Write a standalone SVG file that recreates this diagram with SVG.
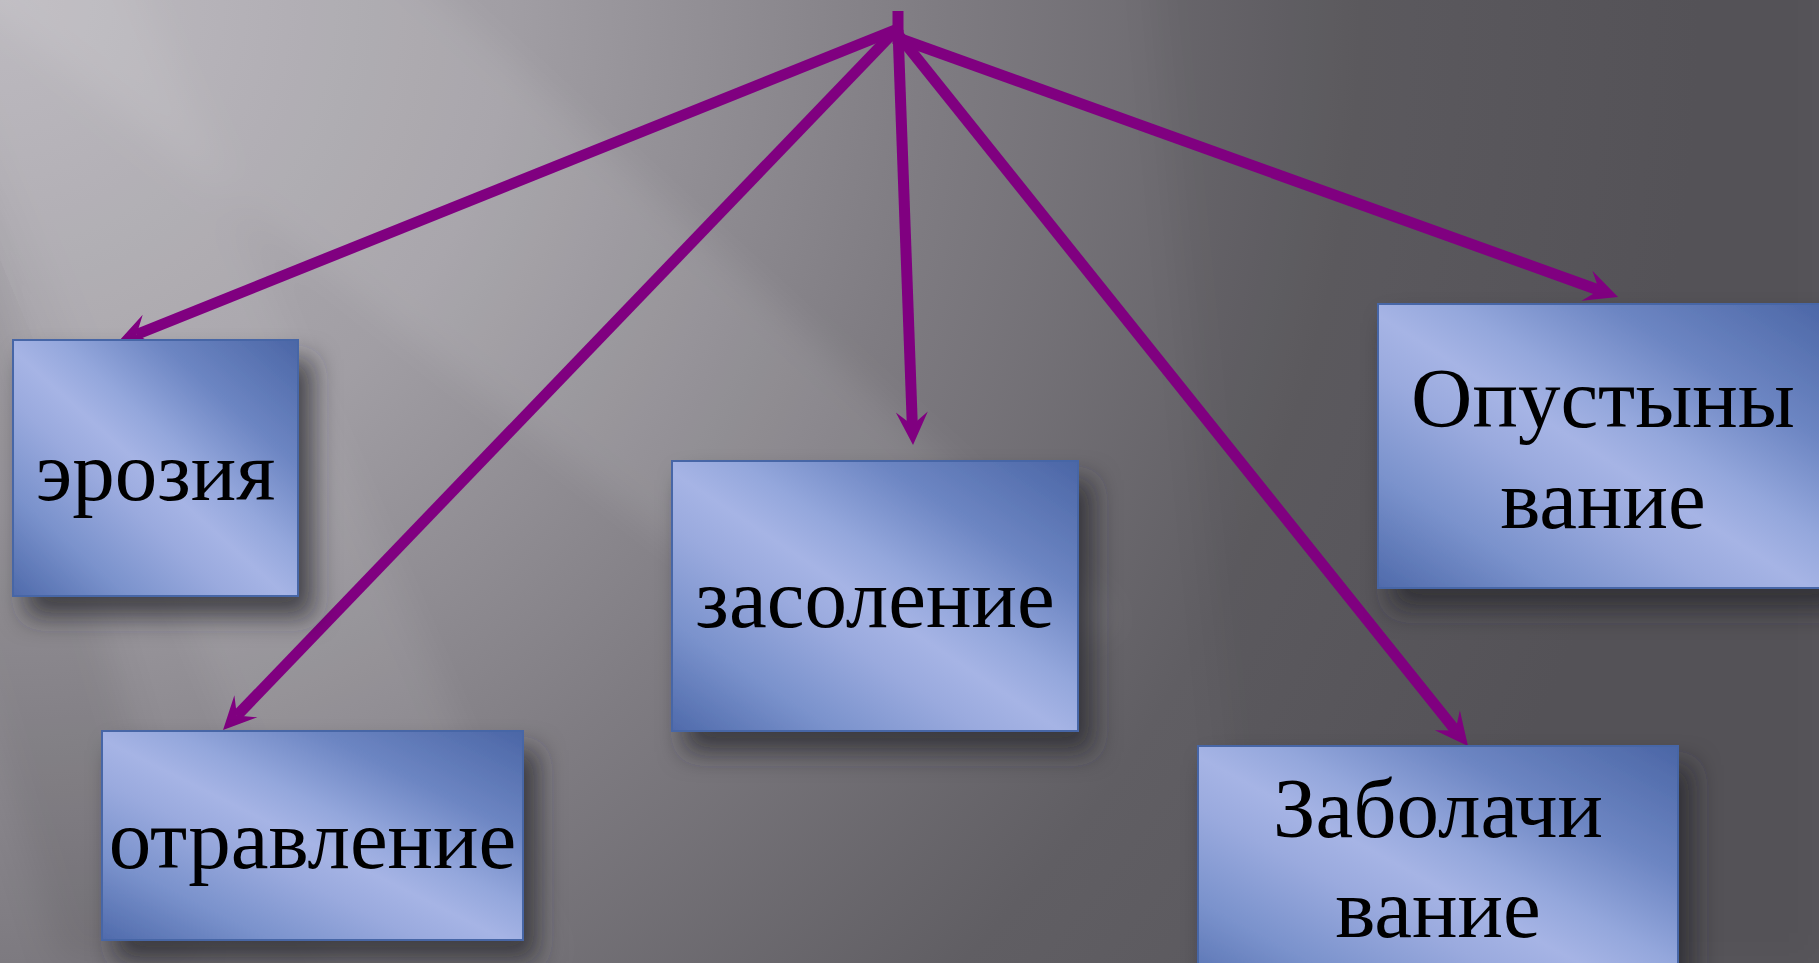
<svg xmlns="http://www.w3.org/2000/svg" width="1819" height="963" viewBox="0 0 1819 963">
  <defs>
    <radialGradient id="bg" cx="0" cy="0" r="1700" gradientUnits="userSpaceOnUse">
      <stop offset="0" stop-color="#b8b5bb"/>
      <stop offset="0.3" stop-color="#a19ea4"/>
      <stop offset="0.55" stop-color="#7f7c82"/>
      <stop offset="0.8" stop-color="#605e63"/>
      <stop offset="1" stop-color="#59575c"/>
    </radialGradient>
    <linearGradient id="box" x1="1" y1="0" x2="0" y2="1">
      <stop offset="0" stop-color="#4b66a6"/>
      <stop offset="0.25" stop-color="#6d86c3"/>
      <stop offset="0.42" stop-color="#94a7dc"/>
      <stop offset="0.52" stop-color="#a6b4e5"/>
      <stop offset="0.62" stop-color="#9aaade"/>
      <stop offset="0.8" stop-color="#7a92cc"/>
      <stop offset="1" stop-color="#4f6aab"/>
    </linearGradient>
    <filter id="blur" x="-20%" y="-20%" width="140%" height="140%">
      <feGaussianBlur stdDeviation="18"/>
    </filter>
    <filter id="shadow" x="-20%" y="-20%" width="150%" height="150%">
      <feDropShadow dx="14" dy="20" stdDeviation="13" flood-color="#2a282d" flood-opacity="0.75"/>
    </filter>
    <marker id="arrow" markerUnits="userSpaceOnUse" markerWidth="34" markerHeight="32" refX="13" refY="16" orient="auto" overflow="visible">
      <path d="M33,16 L0,0 L13,16 L0,32 Z" fill="#800080"/>
    </marker>
  </defs>
  <style>
    .node rect { fill: url(#box); stroke: #4766a6; stroke-width: 2; }
    .shadowed { filter: url(#shadow); }
    .label { font-family: "Liberation Serif", "Times New Roman", serif; font-size: 85px; fill: #000; text-anchor: middle; }
    .conn line { stroke: #800080; stroke-width: 11; marker-end: url(#arrow); }
    .stem { stroke: #800080; stroke-width: 11; }
  </style>

  <!-- background -->
  <rect x="0" y="0" width="1819" height="963" fill="url(#bg)"/>
  <g filter="url(#blur)">
    <polygon points="-100,-60 380,-60 1120,620 900,720" fill="#ffffff" opacity="0.09"/>
    <polygon points="-100,-60 120,-60 560,963 330,963" fill="#ffffff" opacity="0.07"/>
    <polygon points="-100,-60 -100,420 60,963 200,963" fill="#000000" opacity="0.08"/>
    <polygon points="1150,-60 1819,-60 1819,963 1250,963" fill="#000000" opacity="0.05"/>
  </g>

  <!-- connectors -->
  <g id="connectors" class="conn">
    <line class="stem" x1="898" y1="11" x2="898" y2="44" style="marker-end:none"/>
    <line x1="895" y1="30" x2="136.6" y2="334.5"/>
    <line x1="896" y1="30" x2="236.9" y2="715.6"/>
    <line x1="898" y1="30" x2="912.3" y2="425"/>
    <line x1="896" y1="32" x2="1455.5" y2="730.4"/>
    <line x1="898" y1="38" x2="1599.2" y2="290.2"/>
  </g>

  <!-- nodes -->
  <g id="node-erosion" class="node">
    <rect class="shadowed" x="13" y="340" width="285" height="256"/>
    <text class="label" x="155.5" y="500">эрозия</text>
  </g>
  <g id="node-poisoning" class="node">
    <rect class="shadowed" x="102" y="731" width="421" height="209"/>
    <text class="label" x="312.5" y="868">отравление</text>
  </g>
  <g id="node-salinization" class="node">
    <rect class="shadowed" x="672" y="461" width="406" height="270"/>
    <text class="label" x="875" y="627">засоление</text>
  </g>
  <g id="node-desertification" class="node">
    <rect class="shadowed" x="1378" y="304" width="450" height="284"/>
    <text class="label" x="1603" y="427">Опустыны</text>
    <text class="label" x="1603" y="528">вание</text>
  </g>
  <g id="node-swamping" class="node">
    <rect class="shadowed" x="1198" y="746" width="480" height="260"/>
    <text class="label" x="1438" y="837">Заболачи</text>
    <text class="label" x="1438" y="937">вание</text>
  </g>
</svg>
